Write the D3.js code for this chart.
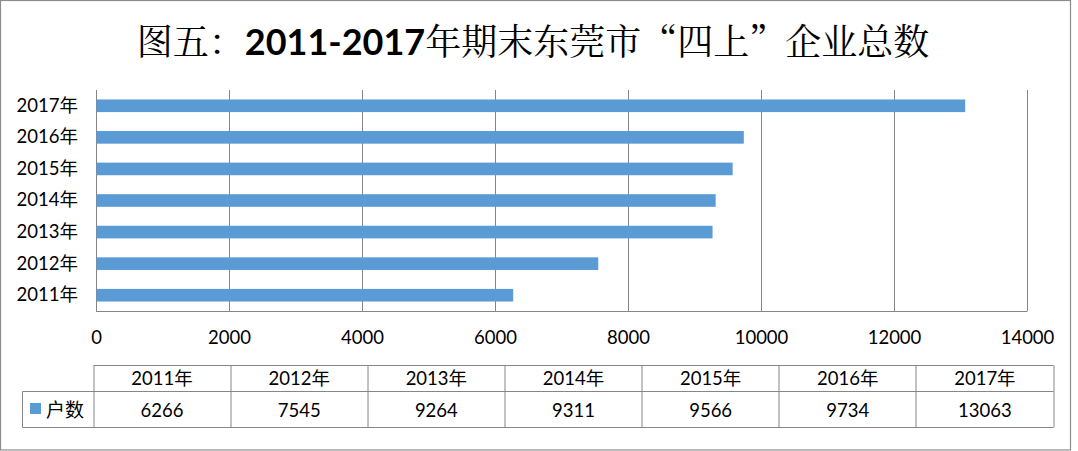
<!DOCTYPE html>
<html><head><meta charset="utf-8">
<script src="https://cdn.jsdelivr.net/npm/d3@7"></script>
<style>body{margin:0;background:#fff}svg{display:block}</style>
</head><body>
<svg id="c" width="1078" height="451"></svg>
<script>
const categories = ["2011年","2012年","2013年","2014年","2015年","2016年","2017年"];
const values = [6266, 7545, 9264, 9311, 9566, 9734, 13063];
const xTicks = [0,2000,4000,6000,8000,10000,12000,14000];
const seriesName = "户数";
const title = ["图五：", "2011-2017", "年期末东莞市“四上”企业总数"];

const svg = d3.select("#c");
const latin = "Lato, 'Noto Sans CJK SC', sans-serif";
const cjk = "'Noto Sans CJK SC', sans-serif";
const gray = "#868686";
const blue = "#5B9BD5";
const fs = 18.5;

// outer border
svg.append("rect").attr("x",0.5).attr("y",0.5).attr("width",1070).attr("height",449.5)
  .attr("fill","#fff").attr("stroke","#8c8c8c").attr("stroke-width",1.2);

// title
const t = svg.append("text").attr("x",533).attr("y",55).attr("text-anchor","middle")
  .attr("font-size",36).attr("fill","#000");
t.append("tspan").attr("font-family","'Noto Serif CJK SC','Noto Sans CJK SC',serif").text(title[0]);
t.append("tspan").attr("font-family","Lato, sans-serif").attr("font-weight","bold").text(title[1]);
t.append("tspan").attr("font-family","'Noto Serif CJK SC','Noto Sans CJK SC',serif").text(title[2]);

const x = d3.scaleLinear().domain([0,14000]).range([96,1027]);
const y = d3.scaleBand().domain(categories.slice().reverse()).range([90,311]).paddingInner(0.6).paddingOuter(0.3);

// gridlines
svg.append("g").selectAll("line").data(xTicks).join("line")
  .attr("x1",d=>Math.round(x(d))+0.5).attr("x2",d=>Math.round(x(d))+0.5)
  .attr("y1",90).attr("y2",311).attr("stroke",gray).attr("stroke-width",1);
// bottom axis line
svg.append("line").attr("x1",96).attr("x2",1027.5).attr("y1",311.5).attr("y2",311.5).attr("stroke",gray);

// bars
svg.append("g").selectAll("rect").data(categories).join("rect")
  .attr("x",x(0)+0.5).attr("y",d=>y(d))
  .attr("width",(d,i)=>x(values[i])-x(0)).attr("height",y.bandwidth())
  .attr("fill",blue);

// x axis labels
const xAxis = d3.axisBottom(x).tickValues(xTicks).tickFormat(d3.format("d")).tickSize(0).tickPadding(0);
const gx = svg.append("g").attr("transform","translate(0,331)").call(xAxis);
gx.select(".domain").remove();
gx.selectAll("text").attr("font-family",latin).attr("font-size",fs).attr("fill","#000").attr("dy","0.72em");

// y axis labels
const yAxis = d3.axisLeft(y).tickSize(0).tickPadding(0);
const gy = svg.append("g").attr("transform","translate(78,0)").call(yAxis);
gy.select(".domain").remove();
gy.selectAll("text").attr("font-family",latin).attr("font-size",fs).attr("fill","#000");

// data table
const tx0 = 93.5, tx1 = 1053.5, legX0 = 22.5;
const colW = (tx1-tx0)/categories.length;
const rTop = 365.5, rMid = 391.5, rBot = 427.5;
const tg = svg.append("g").attr("stroke",gray).attr("stroke-width",1);
tg.append("line").attr("x1",tx0).attr("x2",tx1).attr("y1",rTop).attr("y2",rTop);
tg.append("line").attr("x1",legX0).attr("x2",tx1).attr("y1",rMid).attr("y2",rMid);
tg.append("line").attr("x1",legX0).attr("x2",tx1).attr("y1",rBot).attr("y2",rBot);
tg.append("line").attr("x1",legX0).attr("x2",legX0).attr("y1",rMid).attr("y2",rBot);
tg.selectAll("line.v").data(d3.range(categories.length+1)).join("line").attr("class","v")
  .attr("x1",i=>Math.round(tx0+i*colW)).attr("x2",i=>Math.round(tx0+i*colW))
  .attr("y1",rTop).attr("y2",rBot);

svg.append("g").selectAll("text").data(categories).join("text")
  .attr("x",(d,i)=>tx0+colW*(i+0.5)).attr("y",385).attr("text-anchor","middle")
  .attr("font-family",latin).attr("font-size",fs).text(d=>d);
svg.append("g").selectAll("text").data(values).join("text")
  .attr("x",(d,i)=>tx0+colW*(i+0.5)).attr("y",417).attr("text-anchor","middle")
  .attr("font-family",latin).attr("font-size",fs).text(d=>d);

// legend key
svg.append("rect").attr("x",30).attr("y",403).attr("width",11).attr("height",11).attr("fill",blue);
svg.append("text").attr("x",46).attr("y",417).attr("font-family",cjk).attr("font-size",19).text(seriesName);
</script>
</body></html>
